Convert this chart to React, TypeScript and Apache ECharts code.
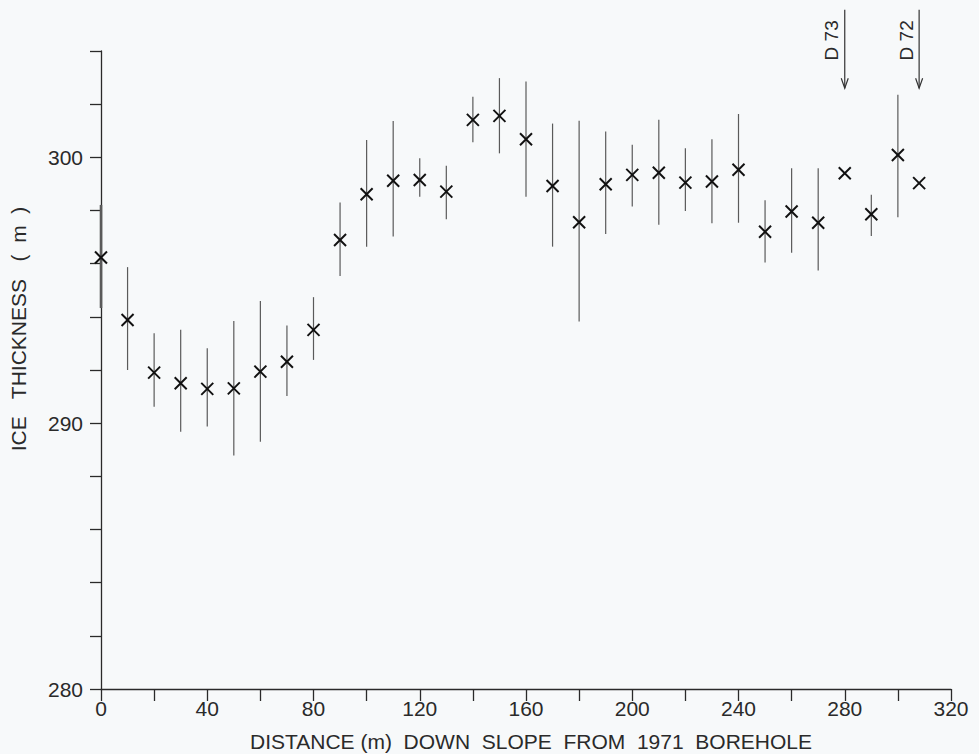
import React, { useEffect, useRef } from "react";
import * as echarts from "echarts";

// Distance down slope (m)
const distances = [0, 10, 20, 30, 40, 50, 60, 70, 80, 90, 100, 110, 120, 130, 140, 150, 160, 170, 180, 190, 200, 210, 220, 230, 240, 250, 260, 270, 280, 290, 300, 308];
// Ice thickness (m)
const thickness = [296.23, 293.88, 291.9, 291.5, 291.29, 291.31, 291.94, 292.31, 293.51, 296.89, 298.61, 299.12, 299.15, 298.71, 301.41, 301.56, 300.68, 298.92, 297.56, 298.99, 299.34, 299.42, 299.05, 299.09, 299.53, 297.2, 297.96, 297.54, 299.4, 297.86, 300.09, 299.03];
// Error bar ends (null = no bar)
const errLow = [294.33, 292.0, 290.62, 289.68, 289.87, 288.78, 289.3, 291.02, 292.38, 295.54, 296.64, 297.02, 298.52, 297.67, 300.57, 300.15, 298.52, 296.64, 293.82, 297.12, 298.15, 297.46, 297.98, 297.52, 297.54, 296.04, 296.41, 295.74, null, 297.04, 297.75, null];
const errHigh = [298.21, 295.87, 293.38, 293.51, 292.82, 293.84, 294.6, 293.67, 294.74, 298.3, 300.65, 301.37, 299.97, 299.68, 302.28, 302.98, 302.85, 301.27, 301.38, 300.97, 300.47, 301.41, 300.34, 300.68, 301.63, 298.39, 299.59, 299.59, null, 298.59, 302.35, null];

// Borehole markers
const markerDistances = [280, 308];
const markerLabels = ["D 73", "D 72"];
const markerTop = 305.55;
const markerTip = 302.6;
const markerTextLevel = 304.4;

// Tick labels
const xLabelValues = [0, 40, 80, 120, 160, 200, 240, 280, 320];
const yLabelValues = [280, 290, 300];

const xTitle = "DISTANCE (m)  DOWN  SLOPE  FROM  1971  BOREHOLE";
const yTitle = "ICE   THICKNESS   (  m  )";

const FONT = "'Liberation Sans', Arial, Helvetica, sans-serif";
const INK = "#2a2a2a";

export default function App() {
  const ref = useRef<HTMLDivElement>(null);

  useEffect(() => {
    if (!ref.current) return;
    const chart = echarts.init(ref.current, undefined, { renderer: "svg" });

    const barData: number[][] = [];
    distances.forEach((d, i) => {
      const lo = errLow[i];
      const hi = errHigh[i];
      if (lo !== null && hi !== null) barData.push([d, lo as number, hi as number]);
    });
    const pointData = distances.map((d, i) => [d, thickness[i]]);
    const markerData = markerDistances.map((d) => [d, markerTop]);

    const option: any = {
      animation: false,
      backgroundColor: "#f7f9fa",
      grid: { left: 101, right: 28, top: 51, bottom: 65, containLabel: false },
      xAxis: {
        type: "value",
        min: 0,
        max: 320,
        interval: 20,
        splitLine: { show: false },
        axisLine: { show: true, lineStyle: { color: INK, width: 1.3 } },
        axisTick: { show: true, inside: false, length: 12, lineStyle: { color: INK, width: 1.3 } },
        axisLabel: {
          show: true,
          margin: 9,
          color: INK,
          fontSize: 21,
          fontFamily: FONT,
          formatter: (v: number) => (xLabelValues.indexOf(v) >= 0 ? String(v) : ""),
        },
      },
      yAxis: {
        type: "value",
        min: 280,
        max: 304,
        interval: 2,
        splitLine: { show: false },
        axisLine: { show: true, lineStyle: { color: INK, width: 1.3 } },
        axisTick: { show: true, inside: false, length: 11, lineStyle: { color: INK, width: 1.3 } },
        axisLabel: {
          show: true,
          margin: 18,
          color: INK,
          fontSize: 21,
          fontFamily: FONT,
          formatter: (v: number) => (yLabelValues.indexOf(v) >= 0 ? String(v) : ""),
        },
      },
      graphic: [
        {
          type: "text",
          x: 531,
          y: 741,
          style: {
            text: xTitle,
            fontSize: 21,
            fontFamily: FONT,
            fill: INK,
            textAlign: "center",
            textVerticalAlign: "middle",
            align: "center",
            verticalAlign: "middle",
          },
        },
        {
          type: "text",
          x: 18,
          y: 329,
          rotation: Math.PI / 2,
          style: {
            text: yTitle,
            fontSize: 21,
            fontFamily: FONT,
            fill: INK,
            textAlign: "center",
            textVerticalAlign: "middle",
            align: "center",
            verticalAlign: "middle",
          },
        },
      ],
      series: [
        {
          type: "custom",
          name: "error",
          clip: false,
          data: barData,
          renderItem: (params: any, api: any) => {
            const x = api.value(0);
            const p1 = api.coord([x, api.value(1)]);
            const p2 = api.coord([x, api.value(2)]);
            return {
              type: "line",
              shape: { x1: p1[0], y1: p1[1], x2: p2[0], y2: p2[1] },
              style: { stroke: "#5a5a5a", lineWidth: x === 0 ? 2.6 : 1.2 },
            };
          },
        },
        {
          type: "custom",
          name: "thickness",
          clip: false,
          data: pointData,
          renderItem: (params: any, api: any) => {
            const p = api.coord([api.value(0), api.value(1)]);
            const s = 6;
            const st = { stroke: "#111", lineWidth: 2 };
            return {
              type: "group",
              children: [
                { type: "line", shape: { x1: p[0] - s, y1: p[1] - s, x2: p[0] + s, y2: p[1] + s }, style: st },
                { type: "line", shape: { x1: p[0] - s, y1: p[1] + s, x2: p[0] + s, y2: p[1] - s }, style: st },
              ],
            };
          },
        },
        {
          type: "custom",
          name: "markers",
          clip: false,
          data: markerData,
          renderItem: (params: any, api: any) => {
            const x = api.value(0);
            const top = api.coord([x, markerTop]);
            const tip = api.coord([x, markerTip]);
            const txt = api.coord([x, markerTextLevel]);
            const st = { stroke: "#333", lineWidth: 1.2, fill: "none" };
            return {
              type: "group",
              children: [
                { type: "line", shape: { x1: top[0], y1: top[1], x2: tip[0], y2: tip[1] }, style: st },
                {
                  type: "polyline",
                  shape: { points: [[tip[0] - 3.5, tip[1] - 10], [tip[0], tip[1]], [tip[0] + 3.5, tip[1] - 10]] },
                  style: st,
                },
                {
                  type: "text",
                  x: txt[0] - 13,
                  y: txt[1],
                  rotation: Math.PI / 2,
                  style: {
                    text: markerLabels[params.dataIndex],
                    fontSize: 19,
                    fontFamily: FONT,
                    fill: INK,
                    align: "center",
                    verticalAlign: "middle",
                  },
                },
              ],
            };
          },
        },
      ],
    };

    chart.setOption(option);
    return () => {
      chart.dispose();
    };
  }, []);

  return (
    <div
      ref={ref}
      style={{ position: "fixed", left: 0, top: 0, width: 979, height: 754, background: "#f7f9fa" }}
    />
  );
}
